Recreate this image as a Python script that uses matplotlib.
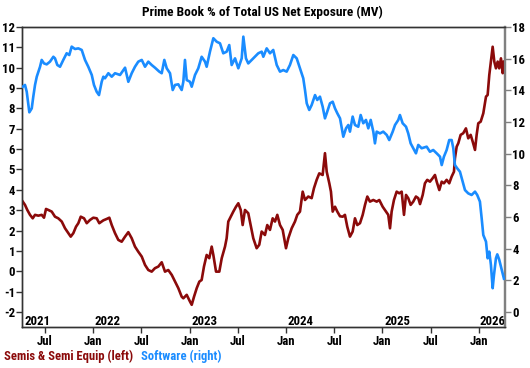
import matplotlib
matplotlib.use("Agg")
import matplotlib.pyplot as plt
import matplotlib.font_manager as fm
import matplotlib.transforms as mtransforms
import numpy as np

# ---------------- data ----------------
soft_t = [2021.272, 2021.295, 2021.313, 2021.340, 2021.365, 2021.381, 2021.399, 2021.417, 2021.451, 2021.468,
          2021.492, 2021.520, 2021.554, 2021.589, 2021.606, 2021.630, 2021.658, 2021.692, 2021.727, 2021.754,
          2021.779, 2021.813, 2021.848, 2021.883, 2021.917, 2021.951, 2021.987, 2022.010, 2022.038, 2022.062,
          2022.090, 2022.107, 2022.124, 2022.159, 2022.194, 2022.228, 2022.280, 2022.332, 2022.366, 2022.401,
          2022.435, 2022.469, 2022.505, 2022.539, 2022.573, 2022.608, 2022.642, 2022.687, 2022.712, 2022.739,
          2022.764, 2022.798, 2022.826, 2022.850, 2022.884, 2022.919, 2022.936, 2022.953, 2022.971, 2023.005,
          2023.023, 2023.057, 2023.091, 2023.126, 2023.161, 2023.178, 2023.212, 2023.247, 2023.282, 2023.316,
          2023.350, 2023.385, 2023.412, 2023.437, 2023.472, 2023.506, 2023.541, 2023.558, 2023.585, 2023.609,
          2023.645, 2023.679, 2023.713, 2023.748, 2023.765, 2023.800, 2023.834, 2023.868, 2023.904, 2023.938,
          2023.972, 2024.007, 2024.041, 2024.076, 2024.111, 2024.145, 2024.179, 2024.197, 2024.215, 2024.241,
          2024.266, 2024.301, 2024.324, 2024.352, 2024.380, 2024.404, 2024.422, 2024.456, 2024.484, 2024.508,
          2024.532, 2024.560, 2024.594, 2024.622, 2024.646, 2024.663, 2024.691, 2024.715, 2024.749, 2024.774,
          2024.801, 2024.829, 2024.853, 2024.878, 2024.905, 2024.922, 2024.940, 2024.974, 2025.008, 2025.044,
          2025.070, 2025.106, 2025.130, 2025.164, 2025.181, 2025.209, 2025.244, 2025.267, 2025.292, 2025.319,
          2025.347, 2025.371, 2025.406, 2025.458, 2025.492, 2025.526, 2025.562, 2025.596, 2025.614, 2025.637,
          2025.665, 2025.692, 2025.717, 2025.734, 2025.751, 2025.775, 2025.803, 2025.831, 2025.855, 2025.889,
          2025.924, 2025.959, 2025.982, 2026.010, 2026.028, 2026.045, 2026.073, 2026.090, 2026.107, 2026.124,
          2026.142, 2026.155, 2026.176, 2026.190, 2026.210, 2026.235, 2026.259]
software = [14.23, 14.34, 13.91, 12.61, 12.86, 13.60, 14.34, 14.86, 15.49, 15.92,
            15.70, 15.64, 15.81, 16.12, 16.02, 15.60, 15.49, 15.92, 16.34, 16.23,
            16.76, 16.61, 16.65, 16.55, 15.92, 15.49, 14.97, 14.34, 13.91, 13.70,
            14.54, 14.86, 14.76, 15.08, 14.86, 15.08, 14.97, 15.43, 14.54, 15.08,
            15.49, 15.81, 15.92, 15.49, 15.81, 15.60, 15.43, 15.18, 15.08, 15.92,
            15.39, 15.08, 14.02, 14.34, 14.38, 14.02, 14.54, 15.92, 14.65, 14.54,
            14.23, 14.97, 15.39, 16.12, 15.81, 15.49, 16.44, 17.29, 17.07, 16.97,
            16.34, 16.44, 16.86, 15.60, 16.02, 15.39, 16.02, 17.39, 16.02, 15.70,
            15.92, 16.12, 16.34, 16.44, 16.12, 16.65, 16.34, 16.55, 15.60, 15.18,
            15.28, 15.18, 15.60, 16.23, 16.02, 15.39, 14.76, 14.02, 13.18, 12.76,
            13.07, 13.70, 13.39, 13.60, 12.97, 12.23, 12.55, 13.18, 13.28, 12.86,
            12.55, 12.23, 11.07, 11.60, 11.81, 11.39, 12.34, 11.81, 11.70, 12.44,
            11.92, 12.13, 11.60, 12.13, 11.39, 10.65, 11.39, 11.28, 11.39, 11.18,
            10.86, 11.39, 11.81, 12.13, 12.44, 11.92, 11.70, 11.28, 10.65, 10.34,
            10.02, 10.55, 10.34, 10.44, 10.12, 10.23, 10.02, 9.81, 9.28, 9.81,
            10.23, 10.86, 10.86, 10.34, 9.28, 9.07, 8.86, 8.23, 7.70, 7.49,
            7.39, 7.60, 7.39, 6.97, 5.92, 4.86, 4.44, 3.39, 3.81, 2.97,
            1.50, 2.30, 3.39, 3.64, 3.30, 2.70, 2.10]

semis_t = [2021.272, 2021.295, 2021.319, 2021.347, 2021.375, 2021.399, 2021.433, 2021.468, 2021.492, 2021.513,
           2021.537, 2021.572, 2021.606, 2021.640, 2021.676, 2021.710, 2021.744, 2021.769, 2021.796, 2021.824,
           2021.848, 2021.873, 2021.907, 2021.935, 2021.969, 2022.003, 2022.038, 2022.065, 2022.090, 2022.107,
           2022.142, 2022.169, 2022.194, 2022.228, 2022.262, 2022.297, 2022.332, 2022.366, 2022.401, 2022.435,
           2022.469, 2022.505, 2022.539, 2022.573, 2022.608, 2022.642, 2022.677, 2022.712, 2022.746, 2022.780,
           2022.816, 2022.850, 2022.884, 2022.919, 2022.936, 2022.971, 2023.005, 2023.023, 2023.047, 2023.075,
           2023.102, 2023.126, 2023.150, 2023.178, 2023.205, 2023.230, 2023.247, 2023.275, 2023.309, 2023.334,
           2023.368, 2023.385, 2023.402, 2023.427, 2023.454, 2023.482, 2023.506, 2023.531, 2023.551, 2023.575,
           2023.609, 2023.634, 2023.661, 2023.696, 2023.723, 2023.748, 2023.782, 2023.806, 2023.834, 2023.862,
           2023.886, 2023.910, 2023.938, 2023.966, 2024.000, 2024.024, 2024.059, 2024.093, 2024.117, 2024.145,
           2024.173, 2024.197, 2024.231, 2024.266, 2024.290, 2024.318, 2024.345, 2024.380, 2024.404, 2024.422,
           2024.449, 2024.466, 2024.484, 2024.508, 2024.532, 2024.560, 2024.588, 2024.611, 2024.635, 2024.663,
           2024.691, 2024.715, 2024.739, 2024.767, 2024.795, 2024.819, 2024.843, 2024.870, 2024.905, 2024.940,
           2024.967, 2025.002, 2025.036, 2025.060, 2025.078, 2025.095, 2025.119, 2025.147, 2025.174, 2025.199,
           2025.223, 2025.244, 2025.267, 2025.292, 2025.319, 2025.347, 2025.371, 2025.389, 2025.417, 2025.440,
           2025.464, 2025.492, 2025.520, 2025.544, 2025.562, 2025.589, 2025.614, 2025.637, 2025.665, 2025.692,
           2025.717, 2025.741, 2025.751, 2025.769, 2025.786, 2025.810, 2025.837, 2025.865, 2025.889, 2025.914,
           2025.935, 2025.959, 2025.976, 2025.993, 2026.018, 2026.045, 2026.073, 2026.090, 2026.107, 2026.124,
           2026.142, 2026.159, 2026.176, 2026.194, 2026.210, 2026.228, 2026.246, 2026.259]
semis = [3.42, 3.26, 3.01, 2.77, 2.60, 2.77, 2.73, 2.77, 2.63, 3.06,
         3.01, 2.93, 2.68, 2.60, 2.44, 2.11, 1.87, 1.70, 1.87, 2.19,
         2.36, 2.68, 2.60, 2.36, 2.52, 2.63, 2.60, 2.36, 2.44, 2.50,
         2.57, 2.63, 2.27, 1.87, 1.54, 1.45, 1.70, 1.92, 1.62, 1.21,
         0.96, 0.72, 0.31, 0.06, -0.02, 0.15, 0.23, 0.44, -0.02, 0.06,
         -0.18, -0.51, -0.83, -1.25, -1.33, -1.16, -1.49, -1.65, -1.25, -0.83,
         -0.51, -0.43, 0.23, 0.80, 0.64, 1.21, 0.80, -0.02, -0.02, 0.64,
         1.21, 1.62, 2.44, 2.68, 2.93, 3.17, 3.34, 3.01, 2.27, 3.01,
         2.85, 2.27, 1.62, 1.13, 1.30, 1.95, 1.78, 2.27, 2.03, 2.60,
         2.44, 2.77, 2.27, 2.03, 1.13, 1.62, 2.11, 2.44, 2.77, 2.93,
         3.91, 3.50, 3.67, 3.59, 4.08, 4.49, 4.81, 4.73, 5.80, 4.89,
         4.32, 3.91, 2.93, 3.17, 2.93, 2.70, 2.68, 2.77, 2.19, 1.70,
         1.95, 2.60, 2.27, 2.36, 2.77, 3.26, 3.67, 3.42, 3.50, 3.42,
         3.50, 3.17, 2.93, 2.77, 2.11, 2.93, 3.50, 3.91, 3.83, 3.91,
         2.77, 3.75, 3.59, 3.26, 3.42, 3.67, 3.59, 3.30, 3.75, 4.32,
         4.49, 4.40, 4.57, 4.73, 4.40, 3.99, 4.40, 4.32, 4.49, 4.32,
         4.65, 4.89, 5.55, 6.12, 6.29, 6.70, 6.78, 7.02, 6.53, 6.70,
         6.37, 5.96, 6.70, 7.27, 7.35, 7.76, 8.58, 8.66, 9.64, 10.30,
         11.03, 10.30, 9.97, 10.30, 9.97, 10.46, 9.73, 10.30]

title = "Prime Book % of Total US Net Exposure (MV)"
semis_label = "Semis & Semi Equip (left)"
soft_label = "Software (right)"
month_ticks = [2021.5, 2022.0, 2022.5, 2023.0, 2023.5, 2024.0, 2024.5, 2025.0, 2025.5, 2026.0]
month_labels = ["Jul", "Jan", "Jul", "Jan", "Jul", "Jan", "Jul", "Jan", "Jul", "Jan"]
year_pos = [2021.285, 2022.02, 2023.02, 2024.02, 2025.02, 2026.005]
year_labels = ["2021", "2022", "2023", "2024", "2025", "2026"]
left_ticks = list(range(-2, 13))
right_ticks = list(range(0, 19, 2))

# ---------------- style ----------------
names = {f.name for f in fm.fontManager.ttflist}
family = "Roboto"
for cand in ["Roboto Condensed", "Liberation Sans Narrow", "Roboto"]:
    if cand in names:
        family = cand
        break
plt.rcParams["font.family"] = [family, "DejaVu Sans"]
plt.rcParams["font.weight"] = "bold"

RED = "#8B0A0A"
BLUE = "#1A8CFF"
SPINE = "#333333"

fig = plt.figure(figsize=(5.30, 3.68), dpi=100)
ax = fig.add_axes([22 / 530, 1 - 327 / 368, (505.3 - 22) / 530, (327 - 27) / 368])
ax2 = ax.twinx()

ax.plot(semis_t, semis, color=RED, lw=1.9, zorder=3)
ax2.plot(soft_t, software, color=BLUE, lw=1.9, zorder=3)

ax.set_xlim(2021.264, 2026.273)
ax.set_ylim(-2.74, 12.0)
ax2.set_ylim(-0.95, 18.0)

ax.set_yticks(left_ticks)
ax.set_yticklabels([str(v) for v in left_ticks])
ax2.set_yticks(right_ticks)
ax2.set_yticklabels([str(v) for v in right_ticks])
ax.set_xticks(month_ticks)
ax.set_xticklabels(month_labels)

fs = 9.2
ax.tick_params(axis="y", direction="out", length=4, width=1, color=SPINE, pad=1, labelsize=fs)
ax.tick_params(axis="x", direction="out", length=4, width=1, color=SPINE, pad=2, labelsize=fs)
ax2.tick_params(axis="y", direction="out", length=4, width=1, color="#808080", pad=1, labelsize=fs)
for lab in ax.get_yticklabels() + ax.get_xticklabels() + ax2.get_yticklabels():
    lab.set_fontweight("bold")

for a in (ax, ax2):
    for s in ["left", "top", "bottom"]:
        a.spines[s].set_color(SPINE)
        a.spines[s].set_linewidth(1.0)
    a.spines["right"].set_color("#808080")
    a.spines["right"].set_linewidth(1.6)

trans = mtransforms.blended_transform_factory(ax.transData, ax.transAxes)
for xp, lab in zip(year_pos, year_labels):
    ax.text(xp, 0.008, lab, transform=trans, ha="left", va="baseline",
            fontsize=9.3, fontweight="bold", color="black", zorder=5)

fig.text(0.495, 1 - 12 / 368, title, ha="center", va="center", fontsize=9.6, fontweight="bold", color="black")
fig.text(4 / 530, 1 - 360 / 368, semis_label, ha="left", va="baseline", fontsize=9.1,
         fontweight="bold", color=RED)
fig.text(141 / 530, 1 - 360 / 368, soft_label, ha="left", va="baseline", fontsize=9.1,
         fontweight="bold", color=BLUE)

fig.savefig("out.png", dpi=100)
